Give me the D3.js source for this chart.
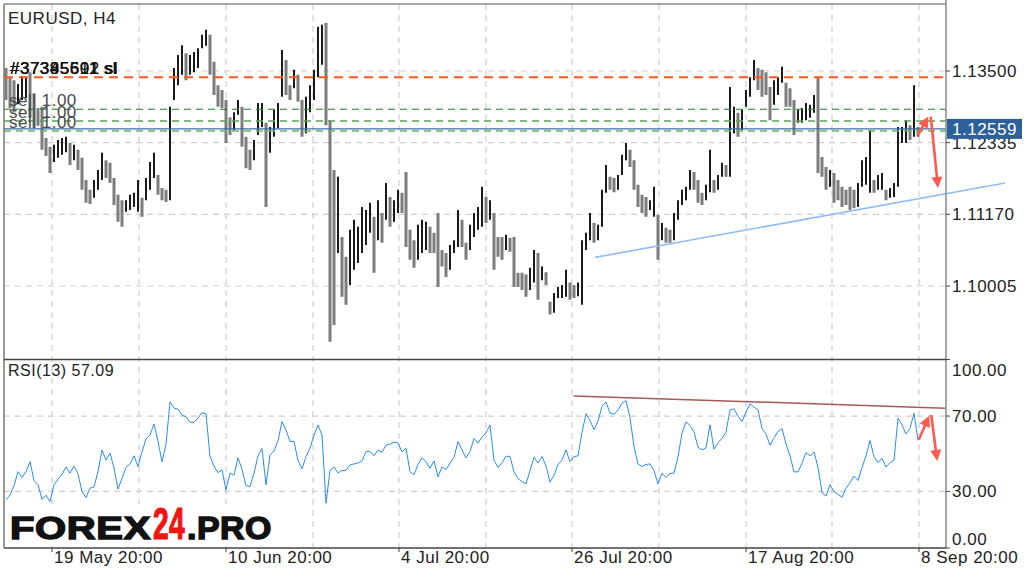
<!DOCTYPE html>
<html><head><meta charset="utf-8">
<script src="https://cdn.jsdelivr.net/npm/d3@7"></script>
<style>
html,body{margin:0;padding:0;background:#fff;}
svg{display:block;}
text{font-family:"Liberation Sans",Arial,sans-serif;letter-spacing:0.5px;}
</style></head><body>
<svg id="c" width="1024" height="577"></svg>
<script>
// ---- data (EURUSD H4) ----
const highs=[1.1355,1.1339,1.1335,1.1329,1.1342,1.1339,1.1348,1.1314,1.1290,1.1292,
1.1241,1.1227,1.1230,1.1238,1.1241,1.1243,1.1233,1.1230,1.1222,1.1209,
1.1173,1.1157,1.1173,1.1189,1.1217,1.1205,1.1201,1.1176,1.1149,1.1140,
1.1140,1.1149,1.1152,1.1173,1.1144,1.1176,1.1202,1.1217,1.1181,1.1160,
1.1157,1.1292,1.1355,1.1376,1.1392,1.1379,1.1376,1.1381,1.1387,1.1409,
1.1417,1.1409,1.1365,1.1327,1.1319,1.1303,1.1275,1.1283,1.1303,1.1292,
1.1243,1.1222,1.1238,1.1298,1.1298,1.1266,1.1259,1.1287,1.1298,1.1384,
1.1368,1.1327,1.1352,1.1344,1.1303,1.1308,1.1327,1.1352,1.1422,1.1425,
1.1428,1.1270,1.1189,1.1178,1.1080,1.1048,1.1092,1.1108,1.1097,1.1129,
1.1124,1.1136,1.1113,1.1140,1.1119,1.1168,1.1145,1.1140,1.1157,1.1152,
1.1186,1.1092,1.1075,1.1100,1.1108,1.1105,1.1097,1.1087,1.1119,1.1059,
1.1054,1.1067,1.1075,1.1124,1.1108,1.1071,1.1100,1.1119,1.1129,1.1162,
1.1145,1.1140,1.1119,1.1080,1.1080,1.1084,1.1079,1.1080,1.1022,1.1022,
1.1019,1.1030,1.1059,1.1054,1.1032,1.1023,1.0975,1.0989,1.0999,1.1002,
1.1027,1.1006,1.1002,1.1006,1.1075,1.1087,1.1119,1.1103,1.1100,1.1157,
1.1197,1.1178,1.1176,1.1181,1.1214,1.1233,1.1222,1.1205,1.1165,1.1149,
1.1145,1.1140,1.1162,1.1116,1.1103,1.1095,1.1092,1.1119,1.1140,1.1157,
1.1162,1.1189,1.1186,1.1173,1.1152,1.1165,1.1222,1.1173,1.1181,1.1201,
1.1197,1.1324,1.1292,1.1282,1.1287,1.1319,1.1340,1.1368,1.1355,1.1352,
1.1348,1.1324,1.1335,1.1340,1.1357,1.1331,1.1322,1.1303,1.1287,1.1290,
1.1298,1.1295,1.1311,1.1340,1.1210,1.1194,1.1189,1.1184,1.1173,1.1162,
1.1157,1.1162,1.1157,1.1168,1.1205,1.1210,1.1254,1.1173,1.1181,1.1184,
1.1157,1.1160,1.1168,1.1259,1.1259,1.1270,1.1262,1.1327,1.1259];
const lows=[1.1303,1.1290,1.1283,1.1296,1.1303,1.1306,1.1274,1.1257,1.1261,1.1222,
1.1212,1.1184,1.1202,1.1209,1.1214,1.1218,1.1197,1.1205,1.1189,1.1157,
1.1136,1.1134,1.1144,1.1157,1.1173,1.1176,1.1168,1.1132,1.1105,1.1097,
1.1121,1.1124,1.1129,1.1121,1.1113,1.1140,1.1157,1.1176,1.1149,1.1140,
1.1137,1.1140,1.1303,1.1327,1.1344,1.1335,1.1344,1.1348,1.1355,1.1387,
1.1391,1.1344,1.1311,1.1292,1.1290,1.1233,1.1246,1.1254,1.1279,1.1227,
1.1192,1.1189,1.1205,1.1246,1.1259,1.1129,1.1217,1.1243,1.1257,1.1308,
1.1311,1.1303,1.1322,1.1300,1.1243,1.1249,1.1283,1.1303,1.1340,1.1360,
1.1262,1.0910,1.0937,1.1054,1.0983,1.0970,1.1002,1.1027,1.1038,1.1054,
1.1067,1.1087,1.1022,1.1075,1.1071,1.1108,1.1097,1.1105,1.1119,1.1119,
1.1064,1.1043,1.1030,1.1043,1.1054,1.1059,1.1054,1.1054,1.0999,1.1032,
1.1015,1.1027,1.1054,1.1064,1.1064,1.1043,1.1059,1.1080,1.1092,1.1097,
1.1103,1.1108,1.1027,1.1048,1.1043,1.1059,1.1056,1.0999,1.0999,1.0994,
1.0983,1.0994,1.1006,1.0978,1.1010,1.1002,1.0954,1.0957,1.0981,1.0981,
1.0983,1.0978,1.0981,1.0984,1.0970,1.1059,1.1075,1.1071,1.1075,1.1097,
1.1152,1.1157,1.1153,1.1157,1.1181,1.1205,1.1194,1.1157,1.1129,1.1119,
1.1113,1.1124,1.1113,1.1043,1.1075,1.1071,1.1071,1.1075,1.1108,1.1132,
1.1140,1.1157,1.1157,1.1136,1.1132,1.1140,1.1153,1.1152,1.1157,1.1178,
1.1178,1.1178,1.1249,1.1243,1.1254,1.1292,1.1308,1.1335,1.1319,1.1308,
1.1311,1.1270,1.1295,1.1311,1.1331,1.1292,1.1292,1.1246,1.1266,1.1266,
1.1270,1.1274,1.1282,1.1184,1.1178,1.1157,1.1162,1.1136,1.1140,1.1129,
1.1132,1.1124,1.1127,1.1129,1.1162,1.1165,1.1152,1.1152,1.1157,1.1157,
1.1140,1.1144,1.1145,1.1162,1.1233,1.1233,1.1238,1.1243,1.1243];
const rsi=[25.5,28.1,33.1,40.5,37.4,40.5,45.8,35.8,33.5,25.8,
28.0,24.6,33.5,36.5,39.1,43.0,39.7,43.5,39.3,29.9,
26.7,31.7,32.4,40.5,52.0,46.7,50.3,42.5,31.2,37.0,
42.8,44.6,48.9,43.2,51.0,57.9,60.0,65.7,56.6,45.7,
55.0,77.5,74.2,73.6,70.5,69.6,66.7,66.6,69.0,71.7,
71.3,48.5,43.5,40.0,41.4,30.8,39.7,38.6,47.8,41.8,
33.1,32.6,39.7,48.9,52.8,33.5,49.4,51.5,56.8,67.1,
62.6,56.5,56.5,46.4,42.0,48.5,52.9,59.8,65.3,59.8,
23.7,41.1,43.0,39.8,41.1,41.2,44.1,44.6,45.1,46.2,
51.2,51.2,49.0,51.9,50.8,54.5,55.1,56.1,55.8,51.0,
52.9,40.5,38.9,44.3,47.8,45.8,42.3,46.2,37.7,43.0,
41.6,45.0,48.0,56.5,52.0,47.8,51.2,58.1,55.6,59.0,
61.1,65.3,46.6,42.8,45.3,48.7,48.5,40.4,36.8,35.2,
34.0,41.1,48.1,45.1,48.5,43.7,34.9,38.6,44.3,46.7,
52.0,45.8,48.5,48.9,61.4,71.2,67.6,62.8,67.3,75.1,
77.5,71.5,71.0,73.1,76.8,78.2,69.2,53.8,44.6,43.2,
44.3,44.6,41.1,34.0,39.7,37.4,39.5,39.7,48.5,60.9,
66.9,65.0,61.6,53.5,52.0,53.1,65.3,52.4,55.8,58.2,
61.4,73.3,73.8,69.8,67.1,72.1,76.5,74.7,73.3,63.4,
60.5,54.5,58.4,61.8,63.4,55.2,48.9,40.4,40.4,45.0,
50.6,48.9,51.0,42.8,29.4,27.6,33.6,29.9,28.5,26.9,
31.7,34.7,38.2,35.8,42.7,49.0,57.0,48.5,45.3,47.6,
43.0,45.3,46.7,68.9,65.3,60.5,63.4,71.5,57.09];

const priceTicks=[1.135,1.12335,1.1117,1.10005];
const rsiTicks=[100,70,30,0];
const rsiGrid=[70,30];
const gridBars=[11.5,33.25,55,76.75,98.25,120,141.5,163.25,185,206.5,228.25];
const timeLabels=["19 May 20:00","","10 Jun 20:00","","4 Jul 20:00","","26 Jul 20:00","","17 Aug 20:00","","8 Sep 20:00"];
const orderLevels=[1.13398,1.12878,1.12688,1.12525];
const ticketTexts=["#37345591 sl","#37385602 sl","#37395611 sl"];
const sellTexts=["sell 1.00","sell 1.00","sell 1.00"];
const bid=1.12559;
const rsiLast=57.09;
const trendPrice=[[147.25,1.1047],[249.75,1.1168]];
const trendRsi=[[141.9,80.7],[234.75,74.2]];
const arrowsPrice=[[[228,1.1246],[230.6,1.1276]],[[231.2,1.1276],[233,1.1160]]];
const arrowsRsi=[[[228.2,57.4],[230.8,70.2]],[[231.3,70.6],[232.8,46.2]]];

// ---- drawing ----
const svg=d3.select("#c");
svg.append("rect").attr("width",1024).attr("height",577).attr("fill","#fff");
const L=4,R=946,T=4,SEP=359.5,B=548;
const x=d3.scaleLinear().domain([0,highs.length-1]).range([6,918]);
const y=d3.scaleLinear().domain([1.10005,1.135]).range([286,71]);
const yr=d3.scaleLinear().domain([0,100]).range([B,SEP]);

const defs=svg.append("defs");
defs.append("clipPath").attr("id","cm").append("rect").attr("x",L).attr("y",T).attr("width",R-L).attr("height",SEP-T);
defs.append("clipPath").attr("id","cr").append("rect").attr("x",L).attr("y",SEP).attr("width",R-L).attr("height",B-SEP);

const gridCol="#cfcfcf";
svg.append("g").selectAll("line").data(gridBars).join("line")
 .attr("x1",d=>x(d)).attr("x2",d=>x(d)).attr("y1",T).attr("y2",B)
 .attr("stroke",gridCol).attr("stroke-width",1.2).attr("stroke-dasharray","6,5");
svg.append("g").selectAll("line").data(priceTicks).join("line")
 .attr("x1",L).attr("x2",R).attr("y1",d=>y(d)).attr("y2",d=>y(d))
 .attr("stroke",gridCol).attr("stroke-width",1.2).attr("stroke-dasharray","6,5");
svg.append("g").selectAll("line").data(rsiGrid).join("line")
 .attr("x1",L).attr("x2",R).attr("y1",d=>yr(d)).attr("y2",d=>yr(d))
 .attr("stroke",gridCol).attr("stroke-width",1.2).attr("stroke-dasharray","6,5");

// bars
const main=svg.append("g").attr("clip-path","url(#cm)");
const up=(d,i)=> i===0 ? false : (d+lows[i])/2 >= (highs[i-1]+lows[i-1])/2;
main.append("g").selectAll("line").data(highs).join("line")
 .attr("x1",(d,i)=>x(i)).attr("x2",(d,i)=>x(i))
 .attr("y1",d=>y(d)).attr("y2",(d,i)=>y(lows[i]))
 .attr("stroke",(d,i)=>up(d,i)?"#1a1a1a":"#7c7c7c")
 .attr("stroke-width",(d,i)=>up(d,i)?2.0:3.0);

// order lines
const lvlStyle=[{c:"#ff5a1f",w:2.2,da:"9,6"},{c:"#1f7a1f",w:1.2,da:"7,5"},{c:"#52a852",w:1.5,da:"7,5"},{c:"#62b862",w:1.5,da:"7,5"}];
main.append("g").selectAll("line").data(orderLevels).join("line")
 .attr("x1",L).attr("x2",R).attr("y1",d=>y(d)).attr("y2",d=>y(d))
 .attr("stroke",(d,i)=>lvlStyle[i].c).attr("stroke-width",(d,i)=>lvlStyle[i].w).attr("stroke-dasharray",(d,i)=>lvlStyle[i].da);
main.append("line").attr("x1",L).attr("x2",R).attr("y1",y(bid)).attr("y2",y(bid)).attr("stroke","#3a6ea5").attr("stroke-width",1.3);

const lineGen=(ys)=>d3.line().x(d=>x(d[0])).y(d=>ys(d[1]));
svg.append("path").attr("d",lineGen(y)(trendPrice)).attr("stroke","#8fbcf5").attr("stroke-width",1.6).attr("fill","none");

function arrow(g,p0,p1,col){
 const dx=p1[0]-p0[0],dy=p1[1]-p0[1],Ln=Math.hypot(dx,dy),ux=dx/Ln,uy=dy/Ln,hl=11,hw=5.5;
 const bx=p1[0]-ux*hl,by=p1[1]-uy*hl;
 g.append("line").attr("x1",p0[0]).attr("y1",p0[1]).attr("x2",bx+ux*2).attr("y2",by+uy*2).attr("stroke",col).attr("stroke-width",2.6);
 g.append("path").attr("d",`M${p1[0]},${p1[1]}L${bx-uy*hw},${by+ux*hw}L${bx+uy*hw},${by-ux*hw}Z`).attr("fill",col);
}
const ag=svg.append("g");
arrowsPrice.forEach(a=>arrow(ag,[x(a[0][0]),y(a[0][1])],[x(a[1][0]),y(a[1][1])],"#ff5a4e"));
arrowsRsi.forEach(a=>arrow(ag,[x(a[0][0]),yr(a[0][1])],[x(a[1][0]),yr(a[1][1])],"#ff5a4e"));

const rg=svg.append("g").attr("clip-path","url(#cr)");
rg.append("path").datum(rsi).attr("d",d3.line().x((d,i)=>x(i)).y(d=>yr(d)))
 .attr("stroke","#2b8cf0").attr("stroke-width",1).attr("fill","none");
svg.append("path").attr("d",lineGen(yr)(trendRsi)).attr("stroke","#a65a55").attr("stroke-width",1.5).attr("fill","none");

svg.append("text").attr("x",8).attr("y",24).attr("font-size",17).attr("fill","#222").text("EURUSD, H4");
svg.append("g").selectAll("text").data(ticketTexts).join("text")
 .attr("x",10).attr("y",y(orderLevels[0])-3).attr("font-size",17).attr("fill","#111").text(d=>d);
svg.append("g").selectAll("text").data(sellTexts).join("text")
 .attr("x",9).attr("y",(d,i)=>y(orderLevels[i+1])-3).attr("font-size",17).attr("fill","#4a4a4a").text(d=>d);
svg.append("text").attr("x",8).attr("y",376).attr("font-size",16).attr("fill","#222").text("RSI(13) "+rsiLast.toFixed(2));

svg.append("line").attr("x1",L).attr("x2",L).attr("y1",T).attr("y2",B).attr("stroke","#777").attr("stroke-width",1.5);
svg.append("line").attr("x1",L).attr("x2",R).attr("y1",T).attr("y2",T).attr("stroke","#888").attr("stroke-width",1.5);
svg.append("line").attr("x1",R).attr("x2",R).attr("y1",0).attr("y2",B).attr("stroke","#888").attr("stroke-width",1.5);
svg.append("line").attr("x1",L).attr("x2",R).attr("y1",SEP).attr("y2",SEP).attr("stroke","#444").attr("stroke-width",1.3);
svg.append("line").attr("x1",L).attr("x2",R).attr("y1",B).attr("y2",B).attr("stroke","#444").attr("stroke-width",1.3);

const pa=svg.append("g");
pa.selectAll("line").data(priceTicks).join("line").attr("x1",R).attr("x2",R+4).attr("y1",d=>y(d)).attr("y2",d=>y(d)).attr("stroke","#444");
pa.selectAll("text").data(priceTicks).join("text").attr("x",952).attr("y",d=>y(d)+6).attr("font-size",17).attr("fill","#222").text(d=>d3.format(".5f")(d));
svg.append("rect").attr("x",R+1).attr("y",y(bid)-10).attr("width",75).attr("height",20).attr("fill","#2e6199");
svg.append("text").attr("x",952).attr("y",y(bid)+6).attr("font-size",17).attr("fill","#fff").text(d3.format(".5f")(bid));
const ra=svg.append("g");
ra.selectAll("line").data(rsiTicks).join("line").attr("x1",R).attr("x2",R+4).attr("y1",d=>yr(d)).attr("y2",d=>yr(d)).attr("stroke","#444");
ra.selectAll("text").data(rsiTicks).join("text").attr("x",952)
 .attr("y",d=>Math.min(Math.max(yr(d)+6,376),545)).attr("font-size",17).attr("fill","#222").text(d=>d3.format(".2f")(d));

const ta=svg.append("g");
const lab=gridBars.map((g,i)=>({g,t:timeLabels[i]})).filter(d=>d.t);
ta.selectAll("line").data(lab).join("line").attr("x1",d=>x(d.g)).attr("x2",d=>x(d.g)).attr("y1",B).attr("y2",B+4).attr("stroke","#444");
ta.selectAll("text").data(lab).join("text").attr("x",d=>x(d.g)+2).attr("y",563).attr("font-size",17).attr("fill","#222").text(d=>d.t);

svg.append("rect").attr("x",8).attr("y",504).attr("width",268).attr("height",42).attr("fill","#fff");
const wm=svg.append("g").attr("font-family","'DejaVu Sans',sans-serif").attr("font-weight",900).attr("letter-spacing",0);
wm.append("text").attr("x",10).attr("y",539).attr("font-size",31).attr("fill","#111").attr("stroke","#111").attr("stroke-width",1.4)
 .attr("textLength",141).attr("lengthAdjust","spacingAndGlyphs").text("FOREX");
wm.append("text").attr("x",153).attr("y",539).attr("font-size",44).attr("fill","#ee1515").attr("stroke","#ee1515").attr("stroke-width",1.2)
 .attr("textLength",32).attr("lengthAdjust","spacingAndGlyphs").text("24");
wm.append("text").attr("x",187).attr("y",539).attr("font-size",31).attr("fill","#111").attr("stroke","#111").attr("stroke-width",1.4)
 .attr("textLength",85).attr("lengthAdjust","spacingAndGlyphs").text(".PRO");
</script></body></html>
